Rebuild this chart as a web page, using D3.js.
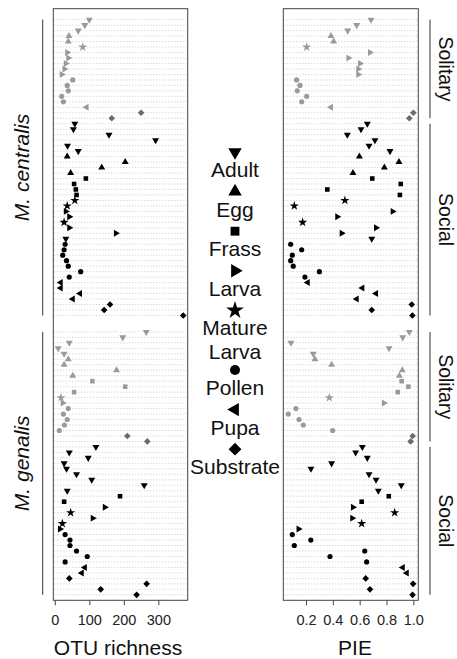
<!DOCTYPE html>
<html>
<head>
<meta charset="utf-8">
<script src="https://cdn.jsdelivr.net/npm/d3@7"></script>
<style>
  body { margin: 0; background: #fff; }
  text { font-family: "Liberation Sans", Arial, Helvetica, sans-serif; fill: #111; }
</style>
</head>
<body>
<script>
// tissue types (legend order) and their codes
var tissueNames = ["Adult", "Egg", "Frass", "Larva", "Mature\nLarva", "Pollen", "Pupa", "Substrate"];
var tissueCodes = ["A", "E", "F", "L", "M", "P", "U", "S"];

// M. centralis, solitary nests
var cenSolTissue = ["A","A","A","E","E","M","L","L","L","L","L","P","P","P","P","P","U","S","S"];
var cenSolOTU = [100, 87, 68, 41, 39, 81, 36, 39, 32, 28, 20, 52, 36, 39, 20, 25, 92, 250, 165];
var cenSolPIE = [0.685, 0.578, 0.511, 0.386, 0.406, 0.205, 0.677, 0.516, 0.603, 0.59, 0.59,
                 0.13, 0.155, 0.135, 0.205, 0.168, 0.386, 1.0, 0.97];

// M. centralis, social nests
var cenSocTissue = ["A","A","A","A","A","A","E","E","E","E","F","F","F","F","M","M","L","L","M","L","L","A",
                    "P","P","P","P","P","P","P","U","U","U","U","S","S","S"];
var cenSocOTU = [58, 54, 157, 292, 37, 68, 36, 204, 136, 46, 90, 56, 61, 63, 58, 36, 32, 42, 27, 42, 177, 32,
                 30, 27, 23, 34, 39, 75, 42, 17, 17, 73, 52, 160, 143, 372];
var cenSocPIE = [0.657, 0.61, 0.508, 0.714, 0.67, 0.826, 0.598, 0.893, 0.784, 0.55, 0.694, 0.906, 0.359, 0.9,
                 0.49, 0.113, 0.846, 0.433, 0.175, 0.722, 0.466, 0.69, 0.086, 0.168, 0.098, 0.086, 0.105, 0.3,
                 0.192, 0.213, 0.62, 0.722, 0.578, 0.988, 0.69, 0.993];

// M. genalis, solitary nests
var genSolTissue = ["A","A","A","A","A","E","E","E","E","F","F","F","M","L","P","P","P","P","P","S","S"];
var genSolOTU = [265, 197, 42, 10, 27, 39, 27, 179, 52, 109, 204, 56, 18, 23, 39, 25, 36, 28, 13, 210, 268];
var genSolPIE = [0.97, 0.921, 0.088, 0.819, 0.254, 0.267, 0.391, 0.918, 0.896, 0.913, 0.963, 0.884, 0.374,
                 0.781, 0.125, 0.068, 0.148, 0.18, 0.399, 0.995, 0.98];

// M. genalis, social nests
var genSocTissue = ["A","A","A","A","A","A","A","A","A","F","F","L","M","L","M","L","P","P","P","P","P","P",
                    "U","U","S","S","S","S"];
var genSocOTU = [119, 42, 97, 27, 34, 63, 107, 259, 36, 189, 27, 145, 46, 110, 22, 15, 30, 44, 44, 63, 94, 30,
                 87, 78, 42, 266, 133, 237];
var genSocPIE = [0.62, 0.57, 0.657, 0.391, 0.237, 0.67, 0.722, 0.91, 0.739, 0.817, 0.615, 0.55, 0.861, 0.545,
                 0.615, 0.145, 0.098, 0.236, 0.113, 0.638, 0.379, 0.652, 0.921, 0.951, 0.645, 0.998, 0.677, 0.994];

// tick labels
var otuTicks = [0, 100, 200, 300];
var pieTicks = [0.2, 0.4, 0.6, 0.8, 1.0];

var groups = [
  {species: "M. centralis", social: "Solitary", tissue: cenSolTissue, otu: cenSolOTU, pie: cenSolPIE},
  {species: "M. centralis", social: "Social",   tissue: cenSocTissue, otu: cenSocOTU, pie: cenSocPIE},
  {species: "M. genalis",   social: "Solitary", tissue: genSolTissue, otu: genSolOTU, pie: genSolPIE},
  {species: "M. genalis",   social: "Social",   tissue: genSocTissue, otu: genSocOTU, pie: genSocPIE}
];

// flatten into rows, leaving a gap of two rows between species
var rows = [], r = 0;
groups.forEach(function(g, gi) {
  if (gi > 0 && groups[gi - 1].species != g.species) r += 2;
  g.start = r;
  g.tissue.forEach(function(t, i) {
    rows.push({row: r, tissue: t, otu: g.otu[i], pie: g.pie[i], social: g.social});
    r++;
  });
  g.end = r - 1;
});

var width = 457, height = 659;

var svg = d3.select("body").append("svg")
    .attr("width", width)
    .attr("height", height);

// scales
var y = d3.scaleLinear().domain([-2, 106]).range([8.7, 600.3]);
var xOtu = d3.scaleLinear().domain([-4.3, 385]).range([53.3, 187.7]);
var xPie = d3.scaleLinear().domain([0.031, 1.037]).range([283.3, 418.3]);

// symbol for each tissue code
function shape(code) {
  switch (code) {
    case "A": return {type: d3.symbolTriangle, rot: 180, k: 1};
    case "E": return {type: d3.symbolTriangle, rot: 0, k: 1};
    case "F": return {type: d3.symbolSquare, rot: 0, k: 1};
    case "L": return {type: d3.symbolTriangle, rot: 90, k: 1};
    case "M": return {type: d3.symbolStar, rot: 0, k: 1.25};
    case "P": return {type: d3.symbolCircle, rot: 0, k: 1};
    case "U": return {type: d3.symbolTriangle, rot: -90, k: 1};
    case "S": return {type: d3.symbolSquare, rot: 45, k: 1.05};
  }
}

function colour(d) {
  if (d.social == "Social") return "#000";
  return d.tissue == "S" ? "#6b6b6b" : "#9a9a9a";
}

// draw one dot panel
function panel(x, key, ticks, fmt, title, titleX) {
  var g = svg.append("g");

  // dotted row guides
  g.selectAll(".grid")
      .data(rows)
    .enter().append("line")
      .attr("x1", x.range()[0] + 1)
      .attr("x2", x.range()[1] - 1)
      .attr("y1", function(d) { return y(d.row); })
      .attr("y2", function(d) { return y(d.row); })
      .style("stroke", "#bdbdbd")
      .style("stroke-width", 0.8)
      .style("stroke-dasharray", "1,2");

  // frame
  g.append("rect")
      .attr("x", x.range()[0])
      .attr("y", y.range()[0])
      .attr("width", x.range()[1] - x.range()[0])
      .attr("height", y.range()[1] - y.range()[0])
      .style("fill", "none")
      .style("stroke", "#444")
      .style("stroke-width", 1);

  // points
  g.selectAll(".pt")
      .data(rows)
    .enter().append("path")
      .attr("d", function(d) { var s = shape(d.tissue); return d3.symbol().type(s.type).size(21 * s.k)(); })
      .attr("transform", function(d) {
        return "translate(" + x(d[key]) + "," + y(d.row) + ") rotate(" + shape(d.tissue).rot + ")";
      })
      .style("fill", colour);

  // x axis
  var ax = g.append("g")
      .attr("transform", "translate(0," + y.range()[1] + ")")
      .call(d3.axisBottom(x).tickValues(ticks).tickFormat(fmt).tickSize(5).tickPadding(9.5));
  ax.select(".domain").remove();
  ax.selectAll("line").style("stroke", "#444");
  ax.selectAll("text")
      .style("font-size", "14.5px")
      .style("font-family", "'Liberation Sans', Arial, sans-serif")
      .style("fill", "#222");

  // axis title
  svg.append("text")
      .attr("x", titleX)
      .attr("y", 655)
      .attr("text-anchor", "middle")
      .style("font-size", "21px")
      .text(title);
}

panel(xOtu, "otu", otuTicks, d3.format("d"), "OTU richness", 118);
panel(xPie, "pie", pieTicks, d3.format(".1f"), "PIE", 355);

// species brackets on the left
var species = d3.groups(groups, function(g) { return g.species; });
species.forEach(function(s) {
  var a = s[1][0].start, b = s[1][s[1].length - 1].end;
  svg.append("line")
      .attr("x1", 42.7).attr("x2", 42.7)
      .attr("y1", y(a)).attr("y2", y(b))
      .style("stroke", "#333").style("stroke-width", 1);
  svg.append("text")
      .attr("text-anchor", "middle")
      .attr("transform", "translate(29," + ((y(a) + y(b)) / 2) + ") rotate(-90)")
      .style("font-size", "21px")
      .style("font-style", "italic")
      .text(s[0]);
});

// sociality brackets on the right
groups.forEach(function(g) {
  svg.append("line")
      .attr("x1", 430).attr("x2", 430)
      .attr("y1", y(g.start)).attr("y2", y(g.end))
      .style("stroke", "#333").style("stroke-width", 1);
  svg.append("text")
      .attr("text-anchor", "middle")
      .attr("transform", "translate(438.5," + ((y(g.start) + y(g.end)) / 2) + ") rotate(90)")
      .style("font-size", "19.5px")
      .text(g.social);
});

// legend in the middle
var legendX = 235;
tissueCodes.forEach(function(code, i) {
  var ly = 152 + 39.6 * i + (i > 4 ? 20 : 0);
  var s = shape(code);
  svg.append("path")
      .attr("d", d3.symbol().type(s.type).size(78 * s.k)())
      .attr("transform", "translate(" + legendX + "," + ly + ") rotate(" + s.rot + ")")
      .style("fill", "#000");
  tissueNames[i].split("\n").forEach(function(line, j) {
    svg.append("text")
        .attr("x", legendX)
        .attr("y", ly + 25 + j * 24)
        .attr("text-anchor", "middle")
        .style("font-size", "21px")
        .text(line);
  });
});
</script>
</body>
</html>
